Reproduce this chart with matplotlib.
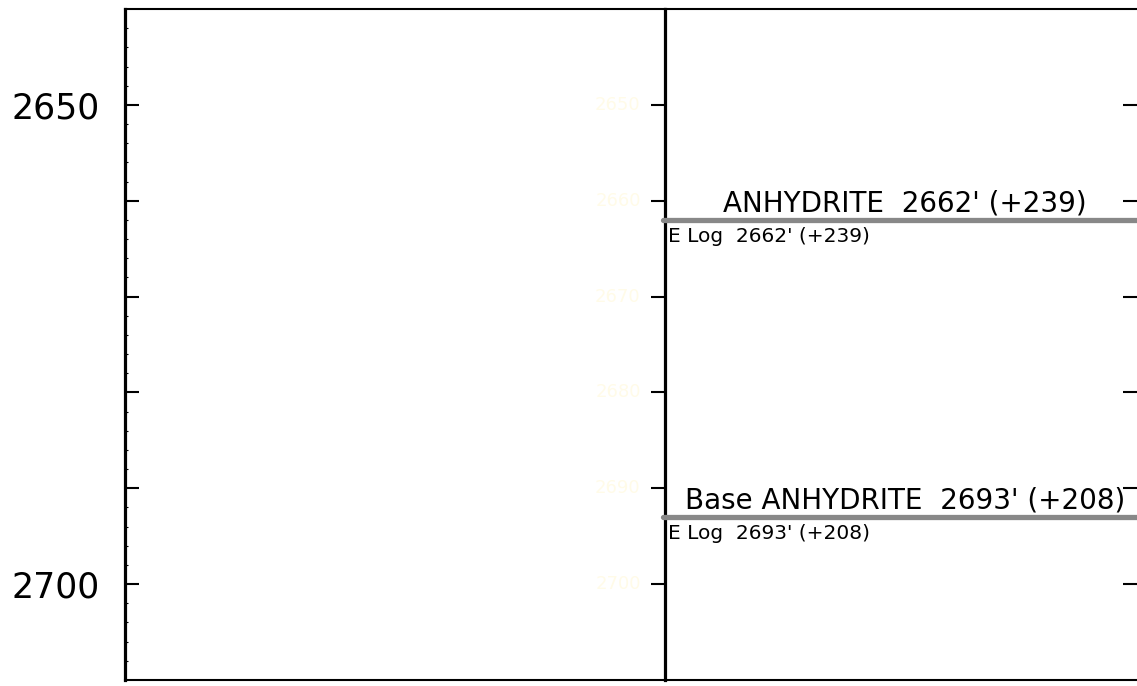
import numpy as np
import matplotlib.pyplot as plt
from matplotlib.ticker import FixedLocator, FuncFormatter

# depth window (ft)
depth_top = 2640
depth_bottom = 2710
major_depths = [2650, 2660, 2670, 2680, 2690, 2700]
minor_depths = [d for d in range(2642, 2710, 2) if d % 10 != 0]

# formation tops
tops_names = ["ANHYDRITE", "Base ANHYDRITE"]
tops_depths = [2662, 2693]
tops_datum = [239, 208]
elog_depths = [2662, 2693]
elog_datum = [239, 208]

W, H = 1137, 686
fig = plt.figure(figsize=(W / 100, H / 100), dpi=100)
fig.patch.set_facecolor("white")

bottom = (H - 680) / H
height = (680 - 9) / H
ax1 = fig.add_axes([125 / W, bottom, (665 - 125) / W, height])
ax2 = fig.add_axes([665 / W, bottom, (1140 - 665) / W, height], sharey=ax1)
ax2.patch.set_alpha(0)

ax1.set_ylim(depth_bottom, depth_top)
ax1.set_xlim(0, 1)
ax2.set_xlim(0, 1)

# left track: depth scale
ax1.yaxis.set_major_locator(FixedLocator(major_depths))
ax1.yaxis.set_minor_locator(FixedLocator(minor_depths))
ax1.yaxis.set_major_formatter(FuncFormatter(lambda v, p: f"{v:.0f}" if v % 50 == 0 else ""))
ax1.tick_params(axis="y", which="major", direction="in", length=10, width=1.5,
                labelsize=25, pad=18, left=True, right=True)
ax1.tick_params(axis="y", which="minor", direction="in", length=2.5, width=0.8,
                left=True, right=False)
ax1.tick_params(axis="x", bottom=False, labelbottom=False)
for side, lw in [("left", 2.3), ("right", 2.3), ("top", 1.5), ("bottom", 1.5)]:
    ax1.spines[side].set_linewidth(lw)

# faint depth labels next to the track divider
for d in major_depths:
    ax1.text(0.955, d, f"{d}", color="#fffbe8", fontsize=13,
             ha="right", va="center", transform=ax1.get_yaxis_transform())

# right track
ax2.tick_params(axis="y", which="major", direction="in", length=12, width=1.5,
                left=False, right=True, labelleft=False, labelright=False)
ax2.tick_params(axis="y", which="minor", left=False, right=False)
ax2.tick_params(axis="x", bottom=False, labelbottom=False)
ax2.spines["left"].set_visible(False)
for side in ["top", "bottom", "right"]:
    ax2.spines[side].set_linewidth(1.5)

for name, d, dat, ed, edat in zip(tops_names, tops_depths, tops_datum, elog_depths, elog_datum):
    ax2.plot([-0.005, 1], [d, d], color="#888888", lw=3.8, solid_capstyle="round",
             clip_on=False, zorder=3)
    ax2.text(0.505, d - 0.3, f"{name}  {d}' (+{dat})", fontsize=20,
             ha="center", va="bottom")
    ax2.text(0.006, ed + 0.7, f"E Log  {ed}' (+{edat})", fontsize=14.5,
             ha="left", va="top")

fig.savefig("out.png", dpi=100)
